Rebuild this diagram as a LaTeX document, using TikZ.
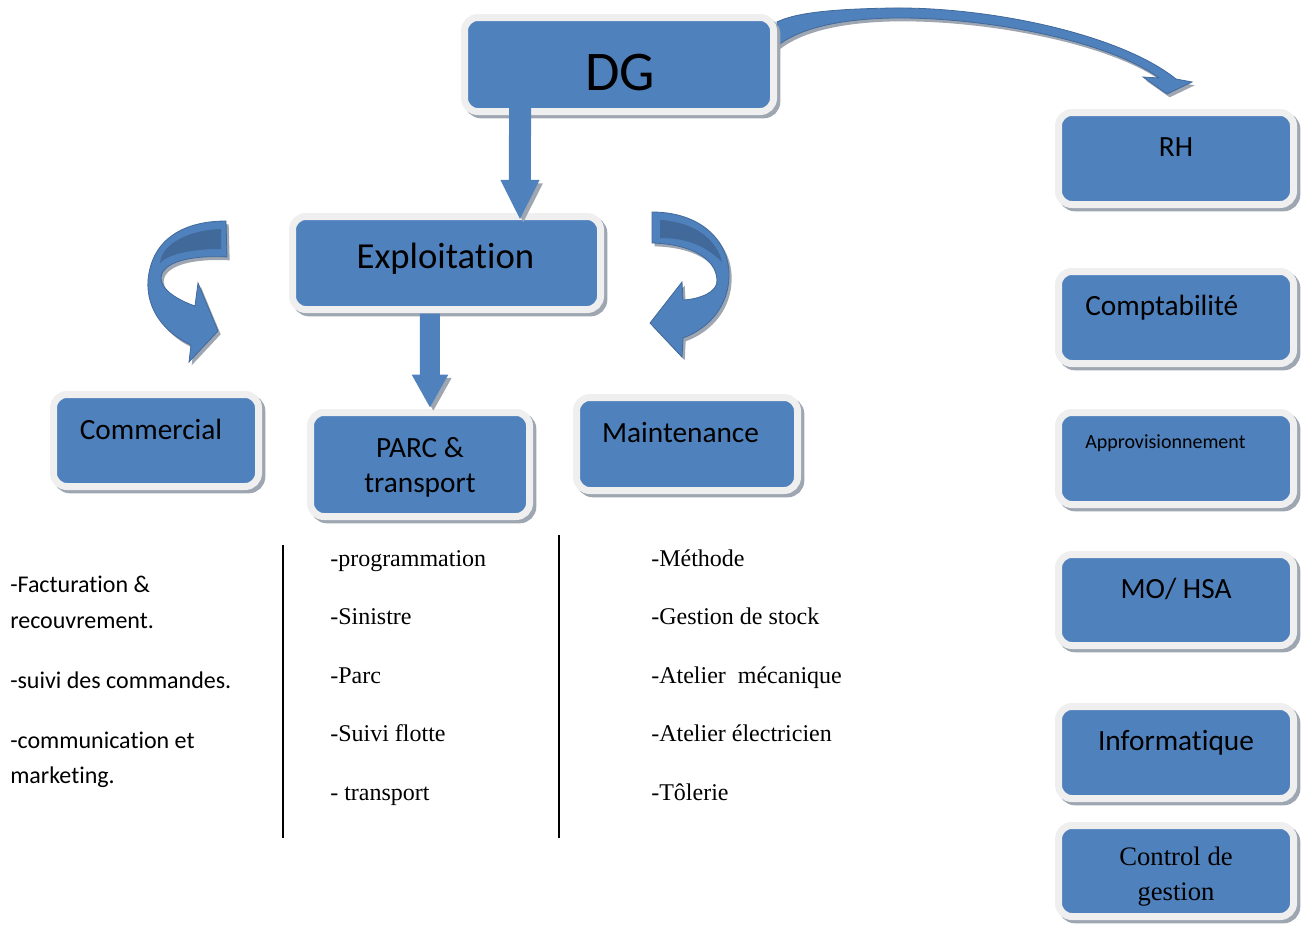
\documentclass[tikz,border=0pt]{standalone}
\usepackage{fontspec}
\setmainfont{Carlito}[Ligatures=NoCommon]
\newfontfamily\serifface{Liberation Serif}
\usetikzlibrary{arrows.meta,positioning}
\definecolor{unitblue}{HTML}{4F81BD}
\definecolor{unitdark}{HTML}{41699A}
\definecolor{unitrim}{HTML}{EFEFEF}
\definecolor{unitshade}{HTML}{9EA6B1}
\newcommand{\dgfont}{\fontsize{42}{50}\selectfont}
\newcommand{\exploitfont}{\fontsize{27.5}{33}\selectfont}
\newcommand{\boxfont}{\fontsize{22}{26}\selectfont}
\newcommand{\approfont}{\fontsize{15}{18}\selectfont}
\newcommand{\itemfont}{\fontsize{18}{22}\selectfont}
\newcommand{\seritemfont}{\serifface\fontsize{18}{22}\selectfont}
\newcommand{\serboxfont}{\serifface\fontsize{20}{24}\selectfont}
\tikzset{
  unit/.style 2 args={draw=unitrim, fill=unitblue, line width=5.25pt,
    rounded corners=10pt, outer sep=0pt, inner sep=0pt,
    minimum width=#1*0.75pt, minimum height=#2*0.75pt,
    preaction={draw=unitshade, fill=unitshade,
      transform canvas={shift={(2.5pt,-2.5pt)}}}},
  unittext/.style={inner sep=0pt, anchor=base, text=black},
  itemtext/.style={inner sep=0pt, anchor=base west, text=black},
  blockarrow/.style={draw=unitblue, line width=16.5pt,
    -{Triangle[width=27pt,length=30pt]},
    preaction={draw=unitshade, transform canvas={shift={(2.5pt,-2.5pt)}}}},
  curlarrow/.style={fill=unitblue, draw=unitdark, line width=0.6pt,
    preaction={fill=unitshade, draw=none,
      transform canvas={shift={(2pt,-2.5pt)}}}},
  curlside/.style={fill=unitdark, draw=none},
  sepline/.style={draw=black, line width=1.5pt}
}
\begin{document}
\begin{tikzpicture}[x=0.75pt,y=-0.75pt]
\useasboundingbox (0,0) rectangle (1305,925);

% curved arrows
\coordinate (rhtip) at (1167,94);
\coordinate (commtip) at (218,331);
\coordinate (maintip) at (650,323);
\filldraw[curlarrow] (777,46) .. controls (800,28) and (840,19) .. (893,18)
  .. controls (990,17) and (1110,42) .. (1159,78) -- (1143,77) -- (rhtip)
  -- (1192,82) -- (1176,79) .. controls (1120,34) and (990,7) .. (893,8)
  .. controls (830,9) and (795,13) .. (777,22) -- cycle;
\filldraw[curlarrow] (226,221) .. controls (185,221) and (152,238) .. (148,280)
  .. controls (146,310) and (165,333) .. (191,345) -- (189,362) -- (commtip)
  -- (198,283) -- (195,306) .. controls (178,300) and (161,290) .. (161,278)
  .. controls (162,262) and (190,255) .. (227,257) -- cycle;
\fill[curlside] (221,229) -- (221,249) .. controls (195,249) and (170,253) .. (160,263)
  .. controls (162,243) and (190,230) .. (221,229) -- cycle;
\filldraw[curlarrow] (652,212) .. controls (700,212) and (729,240) .. (729,275)
  .. controls (729,305) and (710,328) .. (683,338) -- (682,357) -- (maintip)
  -- (682,282) -- (683,300) .. controls (700,299) and (718,292) .. (717,280)
  .. controls (716,258) and (690,244) .. (652,243) -- cycle;
\fill[curlside] (660,220) .. controls (695,222) and (717,240) .. (722,262)
  .. controls (708,248) and (690,238) .. (660,238) -- cycle;

% boxes
\node[unit={309}{94}] (dg) at (619,64.5) {};
\node[unit={308}{93}] (expl) at (446.5,263) {};
\node[unit={205}{92}] (comm) at (156,440.5) {};
\node[unit={219}{104}] (parc) at (420,464.5) {};
\node[unit={221}{93}] (maint) at (687,444) {};
\node[unit={235}{92}] (rh) at (1176,158.5) {};
\node[unit={235}{92}] (compta) at (1176,317.5) {};
\node[unit={235}{92}] (appro) at (1176,458.5) {};
\node[unit={235}{91}] (mo) at (1176,600) {};
\node[unit={235}{92}] (info) at (1176,752.5) {};
\node[unit={235}{91}] (ctrl) at (1176,871) {};

\node[unittext, font=\dgfont] (dgtext) at (620,90) {DG};
\node[unittext, font=\exploitfont] (expltext) at (445.5,268) {Exploitation};
\node[unittext, font=\boxfont] (commtext) at (151,439) {Commercial};
\node[unittext, font=\boxfont] (parctext) at (420,457) {PARC \&};
\node[unittext, font=\boxfont] (parctext2) at (420,492) {transport};
\node[unittext, font=\boxfont] (mainttext) at (680.5,442) {Maintenance};
\node[unittext, font=\boxfont] (rhtext) at (1176,156) {RH};
\node[itemtext, font=\boxfont] (comptatext) at (1085,315) {Comptabilité};
\node[itemtext, font=\approfont] (approtext) at (1085,448) {Approvisionnement};
\node[unittext, font=\boxfont] (motext) at (1176,598) {MO/ HSA};
\node[unittext, font=\boxfont] (infotext) at (1176,750) {Informatique};
\node[unittext, font=\serboxfont] (ctrltext) at (1176,865) {Control de};
\node[unittext, font=\serboxfont] (ctrltext2) at (1176,900) {gestion};

% straight arrows
\draw[blockarrow] ([xshift=-74.25pt,yshift=2.6pt]dg.south)
  -- ([xshift=55.1pt,yshift=-2.6pt]expl.north);
\draw[blockarrow, line width=15pt, -{Triangle[width=25.5pt,length=25pt]}]
  ([xshift=-12.4pt,yshift=-3pt]expl.south) -- ([xshift=7.5pt,yshift=3.4pt]parc.north);

% lists
\draw[sepline] (283,545) -- (283,838);
\draw[sepline] (559,535) -- (559,838);
\node[itemtext, font=\itemfont] (commitem1) at (10,592) {-Facturation \&};
\node[itemtext, font=\itemfont] (commitem2) at (10,628) {recouvrement.};
\node[itemtext, font=\itemfont] (commitem3) at (10,688) {-suivi des commandes.};
\node[itemtext, font=\itemfont] (commitem4) at (10,748) {-communication et};
\node[itemtext, font=\itemfont] (commitem5) at (10,783) {marketing.};
\foreach \txt [count=\i from 0] in {-programmation,-Sinistre,-Parc,-Suivi flotte,- transport}
  \node[itemtext, font=\seritemfont] (parcitem\i) at (330,{566+58.5*\i}) {\txt};
\foreach \txt [count=\i from 0] in {-Méthode,-Gestion de stock,-Atelier\ \ mécanique,-Atelier électricien,-Tôlerie}
  \node[itemtext, font=\seritemfont] (maintitem\i) at (651,{566+58.5*\i}) {\txt};
\end{tikzpicture}
\end{document}
